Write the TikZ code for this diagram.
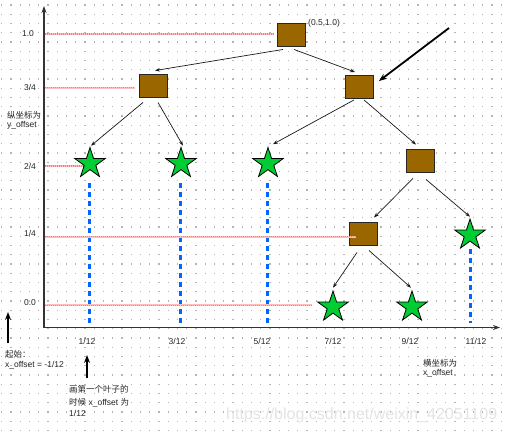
\documentclass[tikz,border=0pt]{standalone}
\usepackage{fontspec}
\setmainfont{Liberation Sans}
\newfontfamily\cjk{Noto Sans CJK SC}
\usetikzlibrary{shapes.geometric,arrows.meta,calc}
\definecolor{boxfill}{RGB}{153,102,0}
\definecolor{starfill}{RGB}{0,204,51}
\definecolor{redband}{RGB}{255,190,190}
\definecolor{reddot}{RGB}{255,120,120}
\definecolor{bluedash}{RGB}{0,102,255}
\definecolor{griddot}{RGB}{180,180,180}
\definecolor{wmark}{RGB}{228,228,228}
\begin{document}
\begin{tikzpicture}[x=1pt,y=-1pt,
  box/.style={draw=black!85, line width=0.9pt, fill=boxfill, minimum width=28pt, minimum height=23pt, inner sep=0pt},
  leaf/.style={star, star points=5, star point ratio=2.62, minimum size=32pt, inner sep=0pt, draw=black, line width=0.8pt, fill=starfill},
  edge/.style={-{Stealth[length=5pt,width=3.6pt]}, line width=0.7pt, black!90},
  level/.style={line width=2.2pt, redband, postaction={draw=reddot, line width=1.4pt, dash pattern=on 1pt off 1pt}},
  col/.style={line width=2.6pt, bluedash, dash pattern=on 5pt off 4pt},
  lbl/.style={font=\fontsize{8.5}{10}\selectfont, text=black!85, inner sep=0pt, anchor=base},
  note/.style={lbl, anchor=base west},
  axisline/.style={line width=1.1pt, black!80, -{Stealth[length=7pt,width=5pt]}},
  pointer/.style={line width=1.8pt, black, -{Stealth[length=8pt,width=6pt]}}
]
\useasboundingbox (0,0) rectangle (507,432);
\fill[white] (0,0) rectangle (507,432);
% dot grid
\foreach \i in {0,...,54}{
  \foreach \j in {0,...,46}{
    \fill[griddot] ({1.2+9.25*\i},{4.4+9.25*\j}) rectangle ++(1.2,1.2);
  }
}
% watermark
\node[anchor=base west, inner sep=0pt, font=\fontsize{16}{16}\selectfont, text=wmark] (wm) at (226,419) {https://blog.csdn.net/weixin\_42051109};

% axes
\coordinate (o) at (44,327.5);
\coordinate (ytop) at (44,6);
\coordinate (xend) at (500,327.5);
\draw[axisline] (o) -- (ytop);
\draw[axisline] (o) -- (xend);

% y labels
\node[lbl] (y10) at (28,36) {1.0};
\node[lbl] (y34) at (30,90.5) {3/4};
\node[lbl] (y24) at (30,169) {2/4};
\node[lbl] (y14) at (30,236.5) {1/4};
\node[lbl] (y00) at (30,305) {0.0};

% x labels
\node[lbl] (x1) at (87,344) {1/12};
\node[lbl] (x3) at (177,344) {3/12};
\node[lbl] (x5) at (262,344) {5/12};
\node[lbl] (x7) at (333,344) {7/12};
\node[lbl] (x9) at (410,344) {9/12};
\node[lbl] (x11) at (476,344) {11/12};

% blue dashed columns
\coordinate (c1a) at (89.5,183); \coordinate (c1b) at (89.5,323);
\coordinate (c3a) at (180.5,183); \coordinate (c3b) at (180.5,323);
\coordinate (c5a) at (267.5,183); \coordinate (c5b) at (267.5,323);
\coordinate (c11a) at (470.5,249); \coordinate (c11b) at (470.5,323);
\draw[col] (c1a) -- (c1b);
\draw[col] (c3a) -- (c3b);
\draw[col] (c5a) -- (c5b);
\draw[col] (c11a) -- (c11b);

% tree nodes
\node[box] (root) at (291,35) {};
\node[box] (l1) at (153.5,85.5) {};
\node[box] (r1) at (359.5,87) {};
\node[box] (r2) at (420,160.5) {};
\node[box] (r3) at (363.5,233.5) {};

% red dotted levels
\coordinate (h10) at (45,34); \coordinate (h34) at (45,87.7); \coordinate (h24) at (45,166);
\coordinate (h14) at (45,236.7); \coordinate (h00) at (45,305.3);
\coordinate (e24) at (84,166); \coordinate (e14) at (356,236.7); \coordinate (e00) at (312,305.3);
\draw[level] (h10) -- ([xshift=-3pt]root.west |- h10);
\draw[level] (h34) -- ([xshift=-4.5pt]l1.west |- h34);
\draw[level] (h24) -- (e24);
\draw[level] (h14) -- (e14);
\draw[level] (h00) -- (e00);

% leaves
\node[leaf] (s1) at (90,163.5) {};
\node[leaf] (s3) at (181,163.5) {};
\node[leaf] (s5) at (268,163.5) {};
\node[leaf] (s11) at (470,235) {};
\node[leaf] (s7) at (333,307) {};
\node[leaf] (s9) at (412,307) {};

\node[lbl, anchor=base west] (rootlbl) at (308,25) {(0.5,1.0)};

% edges
\draw[edge] ([xshift=-8pt,yshift=-2.5pt]root.south) -- ([xshift=1.5pt,yshift=3pt]l1.north);
\draw[edge] ([xshift=3pt,yshift=-2.5pt]root.south) -- ([xshift=-4.5pt,yshift=3pt]r1.north);
\draw[edge] ([xshift=-10.5pt,yshift=-5pt]l1.south) -- ([xshift=1pt,yshift=0.5pt]s1.north);
\draw[edge] ([xshift=4.5pt,yshift=-5pt]l1.south) -- ([xshift=2pt,yshift=0.5pt]s3.north);
\draw[edge] ([xshift=-5.5pt,yshift=-1pt]r1.south) -- ([xshift=5pt,yshift=2pt]s5.north);
\draw[edge] ([xshift=4.5pt,yshift=-1pt]r1.south) -- ([xshift=-4pt,yshift=4pt]r2.north);
\draw[edge] ([xshift=-7pt,yshift=-6pt]r2.south) -- ([xshift=10.5pt,yshift=4pt]r3.north);
\draw[edge] ([xshift=6pt,yshift=-7pt]r2.south) -- ([yshift=1pt]s11.north);
\draw[edge] ([xshift=-6.5pt,yshift=-7pt]r3.south) -- ([yshift=2pt]s7.north);
\draw[edge] ([xshift=5.5pt,yshift=-5pt]r3.south) -- ([xshift=-1pt,yshift=2pt]s9.north);

% big pointer
\coordinate (pstart) at (449,28);
\draw[pointer] (pstart) -- ([xshift=5pt,yshift=-6pt]r1.north east);

% notes
\node[note] (ny1) at (7,118) {\cjk 纵坐标为};
\node[note] (ny2) at (7,127.5) {y\_offset};

\coordinate (a1s) at (8,343); \coordinate (a1e) at (8,312);
\draw[pointer] (a1s) -- (a1e);
\node[note] (ns1) at (5,357) {\cjk 起始：};
\node[note] (ns2) at (5,367) {x\_offset = -1/12};

\coordinate (a2s) at (87,378); \coordinate (a2e) at (87,355);
\draw[pointer] (a2s) -- (a2e);
\node[note] (nf1) at (69,392) {\cjk 画第一个叶子的};
\node[note] (nf2) at (69,405) {{\cjk 时候} x\_offset {\cjk 为}};
\node[note] (nf3) at (69,416) {1/12};

\node[note] (nx1) at (423,366) {\cjk 横坐标为};
\node[note] (nx2) at (423,375.5) {x\_offset};
\end{tikzpicture}
\end{document}
